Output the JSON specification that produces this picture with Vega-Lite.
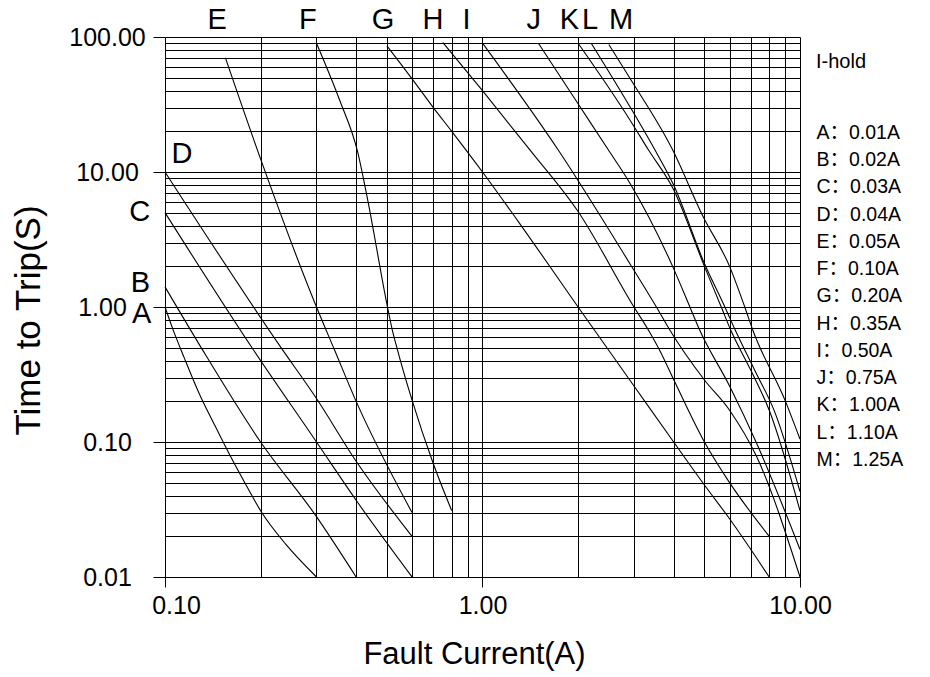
{
  "$schema": "https://vega.github.io/schema/vega-lite/v6.json",
  "width": 635,
  "height": 540,
  "autosize": {"type": "none"},
  "padding": {"left": 165, "top": 37, "right": 130, "bottom": 100},
  "background": "white",
  "config": {"view": {"stroke": null}, "font": "Liberation Sans"},
  "datasets": {
    "curves": [
      {"curve": "A", "current": 0.1, "time": 1.0},
      {"curve": "A", "current": 0.106, "time": 0.68},
      {"curve": "A", "current": 0.115, "time": 0.42},
      {"curve": "A", "current": 0.128, "time": 0.23},
      {"curve": "A", "current": 0.143, "time": 0.135},
      {"curve": "A", "current": 0.16, "time": 0.08},
      {"curve": "A", "current": 0.18, "time": 0.048},
      {"curve": "A", "current": 0.2, "time": 0.031},
      {"curve": "A", "current": 0.24, "time": 0.0175},
      {"curve": "A", "current": 0.3, "time": 0.01},
      {"curve": "B", "current": 0.1, "time": 1.41},
      {"curve": "B", "current": 0.13, "time": 0.5},
      {"curve": "B", "current": 0.2, "time": 0.1},
      {"curve": "B", "current": 0.3, "time": 0.028},
      {"curve": "B", "current": 0.4, "time": 0.01},
      {"curve": "C", "current": 0.1, "time": 5.0},
      {"curve": "C", "current": 0.19, "time": 0.48},
      {"curve": "C", "current": 0.3, "time": 0.1},
      {"curve": "C", "current": 0.4, "time": 0.037},
      {"curve": "C", "current": 0.6, "time": 0.01},
      {"curve": "D", "current": 0.1, "time": 10.0},
      {"curve": "D", "current": 0.232, "time": 0.5},
      {"curve": "D", "current": 0.3, "time": 0.21},
      {"curve": "D", "current": 0.4, "time": 0.072},
      {"curve": "D", "current": 0.6, "time": 0.02},
      {"curve": "E", "current": 0.155, "time": 70},
      {"curve": "E", "current": 0.2, "time": 12.5},
      {"curve": "E", "current": 0.3, "time": 1.0},
      {"curve": "E", "current": 0.342, "time": 0.48},
      {"curve": "E", "current": 0.4, "time": 0.2},
      {"curve": "E", "current": 0.6, "time": 0.03},
      {"curve": "F", "current": 0.3, "time": 90},
      {"curve": "F", "current": 0.355, "time": 34},
      {"curve": "F", "current": 0.404, "time": 14.2},
      {"curve": "F", "current": 0.435, "time": 6.2},
      {"curve": "F", "current": 0.5, "time": 1.05},
      {"curve": "F", "current": 0.52, "time": 0.675},
      {"curve": "F", "current": 0.54, "time": 0.48},
      {"curve": "F", "current": 0.6, "time": 0.204},
      {"curve": "F", "current": 0.7, "time": 0.069},
      {"curve": "F", "current": 0.8, "time": 0.031},
      {"curve": "G", "current": 0.5, "time": 86},
      {"curve": "G", "current": 0.6, "time": 49},
      {"curve": "G", "current": 0.7, "time": 30},
      {"curve": "G", "current": 0.8, "time": 20},
      {"curve": "G", "current": 1.0, "time": 10},
      {"curve": "G", "current": 1.31, "time": 4.15},
      {"curve": "G", "current": 2.0, "time": 1.0},
      {"curve": "G", "current": 3.0, "time": 0.26},
      {"curve": "G", "current": 4.0, "time": 0.1},
      {"curve": "G", "current": 5.0, "time": 0.048},
      {"curve": "G", "current": 6.0, "time": 0.027},
      {"curve": "G", "current": 8.0, "time": 0.01},
      {"curve": "H", "current": 0.75, "time": 91},
      {"curve": "H", "current": 1.0, "time": 40},
      {"curve": "H", "current": 1.41, "time": 14.6},
      {"curve": "H", "current": 2.0, "time": 5.1},
      {"curve": "H", "current": 3.0, "time": 1.0},
      {"curve": "H", "current": 3.33, "time": 0.675},
      {"curve": "H", "current": 3.61, "time": 0.48},
      {"curve": "H", "current": 4.0, "time": 0.29},
      {"curve": "H", "current": 5.0, "time": 0.1},
      {"curve": "H", "current": 6.0, "time": 0.05},
      {"curve": "H", "current": 8.0, "time": 0.02},
      {"curve": "I", "current": 1.0, "time": 90},
      {"curve": "I", "current": 1.73, "time": 14.6},
      {"curve": "I", "current": 2.91, "time": 2.1},
      {"curve": "I", "current": 3.53, "time": 1.0},
      {"curve": "I", "current": 3.89, "time": 0.675},
      {"curve": "I", "current": 5.0, "time": 0.288},
      {"curve": "I", "current": 6.0, "time": 0.172},
      {"curve": "I", "current": 7.3, "time": 0.078},
      {"curve": "I", "current": 10.0, "time": 0.01},
      {"curve": "J", "current": 1.5, "time": 90},
      {"curve": "J", "current": 2.0, "time": 32},
      {"curve": "J", "current": 2.49, "time": 14.6},
      {"curve": "J", "current": 2.91, "time": 8.3},
      {"curve": "J", "current": 3.97, "time": 2.0},
      {"curve": "J", "current": 4.5, "time": 1.0},
      {"curve": "J", "current": 4.83, "time": 0.675},
      {"curve": "J", "current": 6.0, "time": 0.26},
      {"curve": "J", "current": 7.3, "time": 0.098},
      {"curve": "J", "current": 10.0, "time": 0.016},
      {"curve": "K", "current": 2.0, "time": 90},
      {"curve": "K", "current": 2.91, "time": 24.4},
      {"curve": "K", "current": 3.33, "time": 14.6},
      {"curve": "K", "current": 4.0, "time": 7.4},
      {"curve": "K", "current": 5.0, "time": 2.0},
      {"curve": "K", "current": 5.65, "time": 1.0},
      {"curve": "K", "current": 6.05, "time": 0.675},
      {"curve": "K", "current": 7.0, "time": 0.34},
      {"curve": "K", "current": 8.0, "time": 0.172},
      {"curve": "K", "current": 10.0, "time": 0.031},
      {"curve": "L", "current": 2.2, "time": 90},
      {"curve": "L", "current": 2.91, "time": 30.6},
      {"curve": "L", "current": 3.49, "time": 14.6},
      {"curve": "L", "current": 4.0, "time": 8.0},
      {"curve": "L", "current": 5.0, "time": 2.1},
      {"curve": "L", "current": 5.8, "time": 1.0},
      {"curve": "L", "current": 6.25, "time": 0.675},
      {"curve": "L", "current": 7.2, "time": 0.34},
      {"curve": "L", "current": 8.3, "time": 0.17},
      {"curve": "L", "current": 10.0, "time": 0.043},
      {"curve": "M", "current": 2.5, "time": 88},
      {"curve": "M", "current": 2.91, "time": 49.7},
      {"curve": "M", "current": 3.97, "time": 14.6},
      {"curve": "M", "current": 4.95, "time": 4.68},
      {"curve": "M", "current": 6.0, "time": 2.0},
      {"curve": "M", "current": 6.7, "time": 1.0},
      {"curve": "M", "current": 7.1, "time": 0.675},
      {"curve": "M", "current": 9.0, "time": 0.2},
      {"curve": "M", "current": 10.0, "time": 0.105}
    ],
    "ratings": [
      {"curve": "A", "legend": "A：0.01A"},
      {"curve": "B", "legend": "B：0.02A"},
      {"curve": "C", "legend": "C：0.03A"},
      {"curve": "D", "legend": "D：0.04A"},
      {"curve": "E", "legend": "E：0.05A"},
      {"curve": "F", "legend": "F：0.10A"},
      {"curve": "G", "legend": "G：0.20A"},
      {"curve": "H", "legend": "H：0.35A"},
      {"curve": "I", "legend": "I：0.50A"},
      {"curve": "J", "legend": "J：0.75A"},
      {"curve": "K", "legend": "K：1.00A"},
      {"curve": "L", "legend": "L：1.10A"},
      {"curve": "M", "legend": "M：1.25A"}
    ],
    "labels": [
      {"curve": "E", "current": 0.146, "time": 132.6},
      {"curve": "F", "current": 0.282, "time": 132.6},
      {"curve": "G", "current": 0.486, "time": 132.6},
      {"curve": "H", "current": 0.698, "time": 132.6},
      {"curve": "I", "current": 0.89, "time": 132.6},
      {"curve": "J", "current": 1.45, "time": 132.6},
      {"curve": "K", "current": 1.88, "time": 132.6},
      {"curve": "L", "current": 2.18, "time": 132.6},
      {"curve": "M", "current": 2.73, "time": 132.6},
      {"curve": "D", "current": 0.113, "time": 13.6},
      {"curve": "C", "current": 0.0833, "time": 5.05},
      {"curve": "B", "current": 0.0836, "time": 1.51},
      {"curve": "A", "current": 0.0845, "time": 0.892}
    ]
  },
  "encoding": {
    "x": {
      "field": "current",
      "type": "quantitative",
      "scale": {"type": "log", "domain": [0.1, 10], "nice": false, "zero": false},
      "axis": {
        "values": [0.1, 0.2, 0.3, 0.4, 0.5, 0.6, 0.7, 0.8, 0.9, 1, 2, 3, 4, 5, 6, 7, 8, 9, 10],
        "grid": true, "gridColor": "black", "gridOpacity": 1, "gridWidth": 1,
        "domain": false,
        "tickSize": 10, "tickColor": "black", "tickWidth": 1,
        "tickOpacity": {"condition": {"test": "datum.value == 0.1 || datum.value == 1 || datum.value == 10", "value": 1}, "value": 0},
        "labelExpr": "(datum.value == 0.1 || datum.value == 1 || datum.value == 10) ? format(datum.value, '.2f') : ''",
        "labelOffset": {"condition": {"test": "datum.value == 0.1", "value": 11}, "value": 0},
        "labelFlush": false, "labelOverlap": false,
        "labelFont": "Liberation Sans", "labelFontSize": 25, "labelColor": "black", "labelPadding": 6,
        "title": "Fault Current(A)", "titleFont": "Liberation Sans", "titleFontSize": 31, "titleFontWeight": "normal", "titleColor": "black", "titlePadding": 21,
        "titleX": 309
      }
    },
    "y": {
      "field": "time",
      "type": "quantitative",
      "scale": {"type": "log", "domain": [0.01, 100], "nice": false, "zero": false},
      "axis": {
        "values": [0.01, 0.02, 0.03, 0.04, 0.05, 0.06, 0.07, 0.08, 0.09, 0.1, 0.2, 0.3, 0.4, 0.5, 0.6, 0.7, 0.8, 0.9, 1, 2, 3, 4, 5, 6, 7, 8, 9, 10, 20, 30, 40, 50, 60, 70, 80, 90, 100],
        "grid": true, "gridColor": "black", "gridOpacity": 1, "gridWidth": 1,
        "domain": false,
        "tickSize": 12, "tickColor": "black", "tickWidth": 1,
        "tickOpacity": {"condition": {"test": "datum.value == 0.01 || datum.value == 0.1 || datum.value == 1 || datum.value == 10 || datum.value == 100", "value": 1}, "value": 0},
        "labelExpr": "(datum.value == 0.01 || datum.value == 0.1 || datum.value == 1 || datum.value == 10 || datum.value == 100) ? format(datum.value, '.2f') : ''",
        "labelAlign": "center",
        "labelPadding": {"condition": {"test": "datum.value == 1", "value": 51}, "value": 46},
        "labelFlush": false, "labelOverlap": false,
        "labelFont": "Liberation Sans", "labelFontSize": 25, "labelColor": "black",
        "title": "Time to Trip(S)", "titleFont": "Liberation Sans", "titleFontSize": 35, "titleFontWeight": "normal", "titleColor": "black", "titlePadding": 22,
        "titleY": 283
      }
    }
  },
  "layer": [
    {
      "data": {"name": "curves"},
      "transform": [
        {"lookup": "curve", "from": {"data": {"name": "ratings"}, "key": "curve", "fields": ["legend"]}}
      ],
      "mark": {"type": "line", "interpolate": "monotone", "strokeWidth": 1.1},
      "encoding": {
        "detail": {"field": "curve", "type": "nominal"},
        "color": {
          "field": "legend",
          "type": "nominal",
          "scale": {"range": ["black"]},
          "legend": {
            "orient": "none", "legendX": 651, "legendY": 15,
            "title": "I-hold", "titleFont": "Liberation Sans", "titleFontSize": 20, "titleFontWeight": "normal", "titleColor": "black", "titlePadding": 51,
            "labelFont": "'Liberation Sans', 'Noto Sans CJK SC'", "labelFontSize": 19.5, "labelColor": "black", "labelLimit": 200,
            "symbolOpacity": 0, "symbolSize": 0, "symbolStrokeWidth": 0, "labelOffset": -19,
            "rowPadding": 6.25, "padding": 0
          }
        }
      }
    },
    {
      "data": {"name": "labels"},
      "mark": {"type": "text", "font": "Liberation Sans", "fontSize": 29, "align": "center", "baseline": "middle", "color": "black"},
      "encoding": {
        "text": {"field": "curve", "type": "nominal"}
      }
    }
  ]
}
